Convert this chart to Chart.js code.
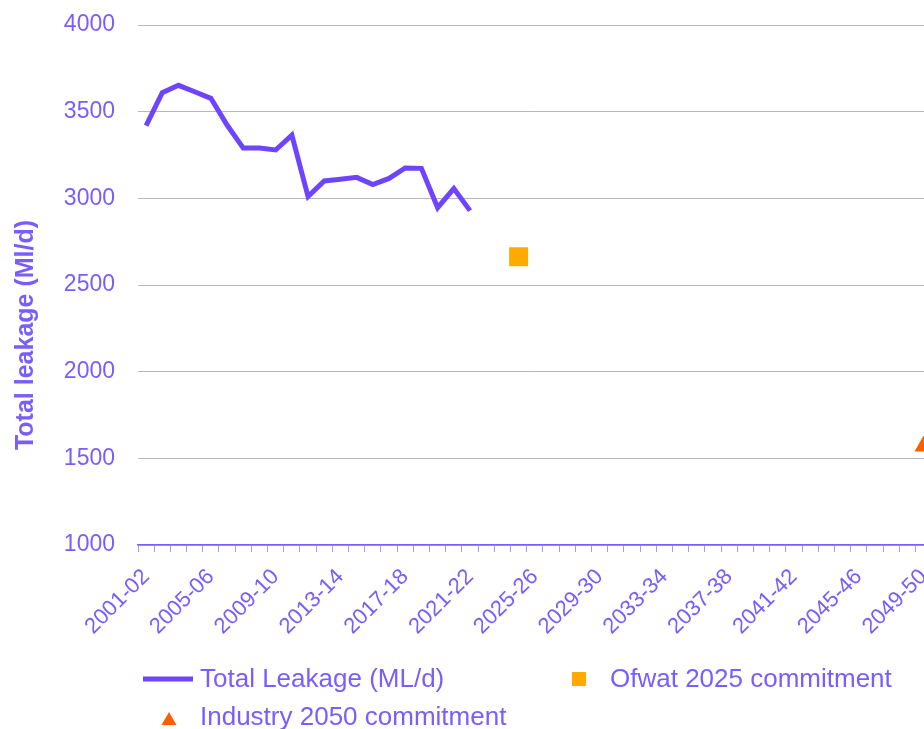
<!DOCTYPE html>
<html>
<head>
<meta charset="utf-8">
<script src="https://cdn.jsdelivr.net/npm/chart.js@4.4.0/dist/chart.umd.min.js"></script>
<style>
html, body { margin: 0; padding: 0; overflow: hidden; background: #fff; }
#wrap { position: relative; width: 945px; height: 729px; }
</style>
</head>
<body>
<div id="wrap"><canvas id="leakage-chart"></canvas></div>
<script>
const years = [
    '2001-02', '2002-03', '2003-04', '2004-05', '2005-06', '2006-07', '2007-08', '2008-09',
    '2009-10', '2010-11', '2011-12', '2012-13', '2013-14', '2014-15', '2015-16', '2016-17',
    '2017-18', '2018-19', '2019-20', '2020-21', '2021-22', '2022-23', '2023-24', '2024-25',
    '2025-26', '2026-27', '2027-28', '2028-29', '2029-30', '2030-31', '2031-32', '2032-33',
    '2033-34', '2034-35', '2035-36', '2036-37', '2037-38', '2038-39', '2039-40', '2040-41',
    '2041-42', '2042-43', '2043-44', '2044-45', '2045-46', '2046-47', '2047-48', '2048-49',
    '2049-50'
];
const shownYears = ['2001-02', '2005-06', '2009-10', '2013-14', '2017-18', '2021-22', '2025-26',
    '2029-30', '2033-34', '2037-38', '2041-42', '2045-46', '2049-50'];
const leakage = [3419, 3610, 3652, 3615, 3577, 3423, 3290, 3290, 3279, 3365, 3010,
    3100, 3110, 3121, 3079, 3115, 3175, 3173, 2946, 3056, 2929];
const ofwatTarget = [{ x: '2024-25', y: 2663 }];
const industryTarget = [{ x: '2049-50', y: 1570 }];
const yTickValues = [1000, 1500, 2000, 2500, 3000, 3500, 4000];

const purple = '#7a5cff';
const lineColor = '#6d45ff';
const fontFamily = '"Liberation Sans", Arial, sans-serif';

// y title sits below the middle of the axis, and the legend is laid out in two columns
const extras = {
    id: 'extras',
    afterDraw(chart) {
        const ctx = chart.ctx;
        const ds = chart.data.datasets;
        ctx.save();
        ctx.fillStyle = purple;
        ctx.font = 'bold 25px ' + fontFamily;
        ctx.textAlign = 'center';
        ctx.textBaseline = 'middle';
        ctx.translate(26, 335);
        ctx.rotate(-Math.PI / 2);
        ctx.fillText('Total leakage (Ml/d)', 0, 0);
        ctx.restore();

        ctx.save();
        ctx.font = '26px ' + fontFamily;
        ctx.textBaseline = 'middle';
        ctx.fillStyle = purple;

        ctx.strokeStyle = ds[0].borderColor;
        ctx.lineWidth = 5;
        ctx.beginPath();
        ctx.moveTo(143, 679);
        ctx.lineTo(193, 679);
        ctx.stroke();
        ctx.fillText(ds[0].label, 200, 680);

        ctx.fillStyle = ds[1].backgroundColor;
        ctx.fillRect(572, 672, 14, 14);
        ctx.fillStyle = purple;
        ctx.fillText(ds[1].label, 610, 680);

        ctx.fillStyle = ds[2].backgroundColor;
        ctx.beginPath();
        ctx.moveTo(169, 712);
        ctx.lineTo(176.5, 725);
        ctx.lineTo(161.5, 725);
        ctx.closePath();
        ctx.fill();
        ctx.fillStyle = purple;
        ctx.fillText(ds[2].label, 200, 718);
        ctx.restore();
    }
};

new Chart(document.getElementById('leakage-chart'), {
    type: 'line',
    data: {
        labels: years,
        datasets: [{
            label: 'Total Leakage (ML/d)',
            data: leakage,
            borderColor: lineColor,
            borderWidth: 5,
            pointRadius: 0,
            tension: 0
        }, {
            label: 'Ofwat 2025 commitment',
            data: ofwatTarget,
            showLine: false,
            pointStyle: 'rect',
            pointRadius: 13.4,
            backgroundColor: '#ffaa00',
            borderWidth: 0
        }, {
            label: 'Industry 2050 commitment',
            data: industryTarget,
            showLine: false,
            pointStyle: 'triangle',
            pointRadius: 10.4,
            backgroundColor: '#ff5f00',
            borderWidth: 0
        }]
    },
    options: {
        responsive: true,
        maintainAspectRatio: false,
        animation: false,
        layout: { padding: { top: 25, right: 10, left: 0, bottom: 0 } },
        scales: {
            x: {
                offset: true,
                grid: { display: true, drawOnChartArea: false, drawTicks: true, tickLength: 7, color: '#a897ff', offset: true },
                border: { display: true, color: purple, width: 1.5 },
                ticks: {
                    autoSkip: false,
                    maxRotation: 45,
                    minRotation: 45,
                    padding: 12,
                    color: purple,
                    font: { family: fontFamily, size: 22 },
                    callback: function (v, i) {
                        const lab = this.getLabelForValue(v);
                        return shownYears.includes(lab) ? lab : '';
                    }
                },
                afterFit: s => {
                    s.height = 184;
                    s.paddingLeft = 0; s.paddingRight = 0; s.paddingTop = 0; s.paddingBottom = 0;
                }
            },
            y: {
                min: 1000,
                max: 4000,
                afterBuildTicks: s => { s.ticks = yTickValues.map(v => ({ value: v })); },
                grid: { color: '#b8b8b8', drawTicks: false },
                border: { display: false },
                ticks: {
                    padding: 23,
                    color: purple,
                    font: { family: fontFamily, size: 23 },
                    callback: v => String(v)
                },
                afterFit: s => {
                    s.width = 138;
                    s.paddingLeft = 0; s.paddingRight = 0; s.paddingTop = 0; s.paddingBottom = 0;
                }
            }
        },
        plugins: {
            legend: { display: false },
            tooltip: { enabled: false }
        }
    },
    plugins: [extras]
});
</script>
</body>
</html>
